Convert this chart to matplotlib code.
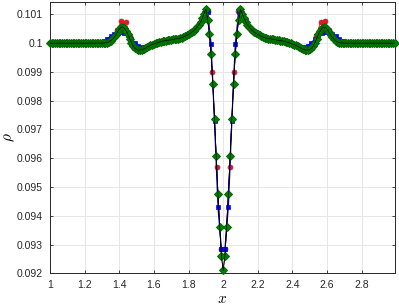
import numpy as np
import matplotlib
matplotlib.use("Agg")
import matplotlib.pyplot as plt

# fine grid (green diamonds), dx = 0.01, x = 1.00 .. 2.99
x_fine = np.round(np.arange(1.00, 2.995, 0.01), 2)
rho_fine_left = [  # x = 1.00 .. 2.00
    0.10000, 0.10000, 0.10000, 0.10000, 0.10000, 0.10000, 0.10000, 0.10000, 0.10000, 0.10000,
    0.10000, 0.10000, 0.10000, 0.10000, 0.10000, 0.10000, 0.10000, 0.10000, 0.10000, 0.10000,
    0.10000, 0.10000, 0.10000, 0.10000, 0.10000, 0.10000, 0.10000, 0.10000, 0.10000, 0.10000,
    0.10000, 0.10000, 0.10001, 0.10002, 0.10004, 0.10008, 0.10013, 0.10020, 0.10029, 0.10039,
    0.10048, 0.10055, 0.10056, 0.10051, 0.10042, 0.10030, 0.10016, 0.10002, 0.09990, 0.09982,
    0.09978, 0.09976, 0.09976, 0.09977, 0.09979, 0.09982, 0.09986, 0.09989, 0.09992, 0.09995,
    0.09997, 0.09999, 0.10001, 0.10003, 0.10005, 0.10007, 0.10008, 0.10009, 0.10010, 0.10011,
    0.10012, 0.10013, 0.10014, 0.10015, 0.10016, 0.10017, 0.10019, 0.10021, 0.10024, 0.10027,
    0.10030, 0.10034, 0.10038, 0.10043, 0.10049, 0.10056, 0.10064, 0.10074, 0.10087, 0.10102,
    0.10118, 0.10082, 0.10033, 0.09961, 0.09859, 0.09737, 0.09606, 0.09475, 0.09362, 0.09260,
    0.09210,
]
rho_fine_right = [  # x = 2.01 .. 2.99
    0.09260, 0.09362, 0.09475, 0.09606, 0.09737, 0.09859, 0.09961, 0.10033, 0.10082, 0.10118,
    0.10102, 0.10087, 0.10074, 0.10064, 0.10056, 0.10049, 0.10043, 0.10038, 0.10034, 0.10030,
    0.10027, 0.10024, 0.10021, 0.10019, 0.10017, 0.10016, 0.10015, 0.10014, 0.10013, 0.10012,
    0.10011, 0.10010, 0.10009, 0.10008, 0.10007, 0.10005, 0.10003, 0.10001, 0.09999, 0.09997,
    0.09995, 0.09992, 0.09989, 0.09986, 0.09982, 0.09979, 0.09977, 0.09976, 0.09976, 0.09978,
    0.09982, 0.09990, 0.10002, 0.10016, 0.10030, 0.10042, 0.10051, 0.10056, 0.10055, 0.10048,
    0.10039, 0.10029, 0.10020, 0.10013, 0.10008, 0.10004, 0.10002, 0.10001, 0.10000, 0.10000,
    0.10000, 0.10000, 0.10000, 0.10000, 0.10000, 0.10000, 0.10000, 0.10000, 0.10000, 0.10000,
    0.10000, 0.10000, 0.10000, 0.10000, 0.10000, 0.10000, 0.10000, 0.10000, 0.10000, 0.10000,
    0.10000, 0.10000, 0.10000, 0.10000, 0.10000, 0.10000, 0.10000, 0.10000, 0.10000,
]

# medium grid (red circles), dx = 0.025, cell centres 1.0125 .. 2.9875
x_mid = np.round(np.arange(1.0125, 3.0, 0.025), 4)
rho_mid = [
    0.10000, 0.10000, 0.10000, 0.10000, 0.10000, 0.10000, 0.10000, 0.10000, 0.10000, 0.10000,
    0.10000, 0.10000, 0.10001, 0.10005, 0.10018, 0.10045, 0.10077, 0.10074, 0.10025, 0.09984,
    0.09972, 0.09976, 0.09986, 0.09994, 0.09999, 0.10004, 0.10008, 0.10010, 0.10013, 0.10015,
    0.10019, 0.10026, 0.10035, 0.10047, 0.10066, 0.10095, 0.10112, 0.09899, 0.09570, 0.09284,
    0.09284, 0.09570, 0.09899, 0.10112, 0.10095, 0.10066, 0.10047, 0.10035, 0.10026, 0.10019,
    0.10015, 0.10013, 0.10010, 0.10008, 0.10004, 0.09999, 0.09994, 0.09986, 0.09976, 0.09972,
    0.09984, 0.10025, 0.10074, 0.10077, 0.10045, 0.10018, 0.10005, 0.10001, 0.10000, 0.10000,
    0.10000, 0.10000, 0.10000, 0.10000, 0.10000, 0.10000, 0.10000, 0.10000, 0.10000, 0.10000,
]

# coarse grid (blue squares), dx = 0.02, cell centres 1.01 .. 2.99
x_coarse = np.round(np.arange(1.01, 3.0, 0.02), 2)
rho_coarse = [
    0.10000, 0.10000, 0.10000, 0.10000, 0.10000, 0.10000, 0.10000, 0.10000, 0.10000, 0.10000,
    0.10000, 0.10000, 0.10000, 0.10000, 0.10002, 0.10007, 0.10015, 0.10024, 0.10031, 0.10036,
    0.10038, 0.10036, 0.10028, 0.10015, 0.10002, 0.09991, 0.09985, 0.09985, 0.09989, 0.09994,
    0.09998, 0.10002, 0.10006, 0.10009, 0.10011, 0.10013, 0.10015, 0.10017, 0.10021, 0.10027,
    0.10034, 0.10043, 0.10056, 0.10076, 0.10104, 0.10108, 0.09998, 0.09728, 0.09431, 0.09284,
    0.09284, 0.09431, 0.09728, 0.09998, 0.10108, 0.10104, 0.10076, 0.10056, 0.10043, 0.10034,
    0.10027, 0.10021, 0.10017, 0.10015, 0.10013, 0.10011, 0.10009, 0.10006, 0.10002, 0.09998,
    0.09994, 0.09989, 0.09985, 0.09985, 0.09991, 0.10002, 0.10015, 0.10028, 0.10036, 0.10038,
    0.10036, 0.10031, 0.10024, 0.10015, 0.10007, 0.10002, 0.10000, 0.10000, 0.10000, 0.10000,
    0.10000, 0.10000, 0.10000, 0.10000, 0.10000, 0.10000, 0.10000, 0.10000, 0.10000, 0.10000,
]

x_ticks = [1, 1.2, 1.4, 1.6, 1.8, 2, 2.2, 2.4, 2.6, 2.8]
x_tick_labels = ["1", "1.2", "1.4", "1.6", "1.8", "2", "2.2", "2.4", "2.6", "2.8"]
y_ticks = [0.092, 0.093, 0.094, 0.095, 0.096, 0.097, 0.098, 0.099, 0.1, 0.101]
y_tick_labels = ["0.092", "0.093", "0.094", "0.095", "0.096", "0.097", "0.098", "0.099", "0.1", "0.101"]


def main():
    plt.rcParams["font.family"] = ["Liberation Sans", "DejaVu Sans"]
    plt.rcParams["mathtext.fontset"] = "cm"

    fig = plt.figure(figsize=(3.99, 3.06), dpi=100)
    ax = fig.add_axes([0.1253, 0.1069, 0.8637, 0.8866])

    rho_fine = rho_fine_left + rho_fine_right

    ax.plot(x_mid, rho_mid, "-o", color="#ff0000", lw=0.6, ms=3.6,
            mfc="#e41a1c", mec="#c02040", mew=0.5, clip_on=False, zorder=3)
    ax.plot(x_coarse, rho_coarse, "-s", color="#0000ff", lw=0.9, ms=3.4,
            mfc="#0000ff", mec="#0000ff", mew=0.5, clip_on=False, zorder=4)
    ax.plot(x_fine, rho_fine, "-D", color="black", lw=0.6, ms=3.6,
            mfc="#008000", mec="#006800", mew=0.7, clip_on=False, zorder=5)
    # keep the black line visible over the markers
    ax.plot(x_fine, rho_fine, "-", color="black", lw=0.5, zorder=6)

    ax.set_xlim(1.0, 2.99)
    ax.set_ylim(0.092, 0.10143)
    ax.set_xticks(x_ticks)
    ax.set_xticklabels(x_tick_labels)
    ax.set_yticks(y_ticks)
    ax.set_yticklabels(y_tick_labels)

    ax.grid(True, color="#e6e6e6", lw=0.7)
    ax.set_axisbelow(True)
    ax.tick_params(direction="in", length=2.5, width=0.6, colors="#262626",
                   labelsize=7.5, top=True, right=True, pad=5)
    for s in ax.spines.values():
        s.set_color("#262626")
        s.set_linewidth(0.7)

    ax.set_xlabel(r"$x$", fontsize=11, labelpad=1)
    ax.set_ylabel(r"$\rho$", fontsize=11, labelpad=0)
    ax.yaxis.set_label_coords(-0.097, 0.5)

    fig.savefig("out.png", dpi=100)


if __name__ == "__main__":
    main()
